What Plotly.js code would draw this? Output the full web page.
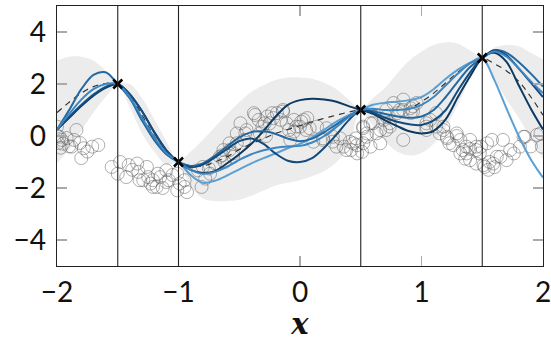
<!DOCTYPE html>
<html>
<head>
<meta charset="utf-8">
<script src="https://cdn.plot.ly/plotly-3.0.1.min.js"></script>
<style>html,body{margin:0;padding:0;background:#fff;}#plot{width:551px;height:341px;}</style>
</head>
<body>
<div id="plot"></div>
<script>
// grid on which the posterior quantities were read
const gridX = [-2.0,-1.9,-1.8,-1.7,-1.6,-1.5,-1.4,-1.3,-1.2,-1.1,-1.0,-0.9,-0.8,-0.7,-0.6,-0.5,-0.4,-0.3,-0.2,-0.1,0.0,0.1,0.2,0.3,0.4,0.5,0.6,0.7,0.8,0.9,1.0,1.1,1.2,1.3,1.4,1.5,1.6,1.7,1.8,1.9,2.0];

const bandUpper = [2.9,3.05,3.05,2.9,2.5,2.05,2.0,1.45,0.65,-0.2,-0.95,-0.6,-0.15,0.35,0.85,1.3,1.7,1.95,2.15,2.25,2.25,2.2,2.05,1.8,1.4,1.05,1.45,1.85,2.4,2.9,3.25,3.5,3.6,3.55,3.3,3.05,3.4,3.5,3.45,3.2,2.95];
const bandLower = [-1.05,-0.5,0.2,0.9,1.5,1.95,1.1,0.1,-0.6,-1.1,-1.05,-1.95,-2.4,-2.5,-2.5,-2.45,-2.3,-2.1,-1.9,-1.8,-1.7,-1.55,-1.35,-1.0,-0.4,0.95,0.4,-0.2,-0.6,-0.75,-0.65,-0.3,0.35,1.2,2.2,2.95,2.2,1.4,0.7,-0.1,-0.9];

const meanY = [0.9,1.3,1.65,1.9,2.02,2.0,1.55,0.8,0.0,-0.65,-1.0,-1.15,-1.15,-1.0,-0.8,-0.52,-0.3,-0.1,0.1,0.25,0.4,0.55,0.68,0.8,0.92,1.0,1.0,1.0,1.0,1.05,1.32,1.65,2.05,2.45,2.8,3.0,2.78,2.5,2.1,1.5,0.8];

const sample1 = [0.25,0.75,1.2,1.6,1.9,2.0,1.45,0.6,-0.15,-0.7,-1.0,-1.5,-1.8,-1.72,-1.52,-1.28,-1.05,-0.85,-0.67,-0.47,-0.3,-0.05,0.25,0.55,0.8,1.0,1.2,1.28,1.32,1.38,1.5,1.8,2.2,2.55,2.82,3.0,2.15,1.05,0.0,-0.9,-1.6];
const sample2 = [0.25,0.7,1.15,1.55,1.85,2.0,1.6,0.95,0.15,-0.55,-1.0,-1.3,-1.42,-1.35,-1.05,-0.7,-0.3,0.2,0.75,1.2,1.38,1.43,1.4,1.32,1.15,1.0,0.85,0.6,0.38,0.18,0.1,0.2,0.65,1.5,2.3,3.0,3.2,2.85,1.95,1.05,0.25];
const sample3 = [0.25,1.0,1.8,2.35,2.45,2.0,1.45,0.6,-0.15,-0.7,-1.0,-1.15,-1.05,-0.75,-0.4,-0.05,0.15,0.18,0.08,-0.1,-0.2,-0.1,0.15,0.45,0.75,1.0,0.95,0.85,0.75,0.7,0.75,1.0,1.5,2.1,2.65,3.0,3.3,3.2,2.85,2.4,1.9];
const sample4 = [0.25,0.72,1.18,1.58,1.88,2.0,1.6,0.95,0.15,-0.55,-1.0,-1.2,-1.1,-0.82,-0.5,-0.2,-0.1,-0.3,-0.68,-0.95,-1.0,-0.85,-0.45,0.05,0.6,1.0,0.9,0.7,0.55,0.45,0.42,0.6,1.0,1.75,2.45,3.0,3.3,3.1,2.6,2.05,1.5];
const sample5 = [0.25,0.85,1.4,1.8,2.0,2.0,1.5,0.7,-0.05,-0.65,-1.0,-1.3,-1.45,-1.38,-1.18,-0.92,-0.7,-0.55,-0.45,-0.4,-0.38,-0.25,0.0,0.35,0.72,1.0,1.05,1.0,1.0,1.05,1.2,1.5,1.95,2.4,2.8,3.0,3.25,3.05,2.6,2.1,1.65];

const sampleColors = ['#5b9fd3','#0c3a62','#2468a0','#154b7c','#3d86c1'];

// observed (noise-free) points
const obsX = [-1.5,-1.0,0.5,1.5];
const obsY = [2.0,-1.0,1.0,3.0];

// noisy data circles
const dataX = [-2.0,-1.84,-1.98,-1.99,-1.96,-1.92,-1.88,-1.81,-1.78,-1.80,-1.71,-1.66,-2.0,-1.95,-1.86,-1.90,-1.75,-1.97,
 -1.55,-1.48,-1.50,-1.41,-1.43,-1.34,-1.33,-1.26,-1.25,-1.23,-1.18,-1.15,-1.10,-1.08,-1.01,-1.21,-1.29,-1.32,-1.21,-0.93,-1.10,-0.99,-1.38,-1.17,-1.05,-1.13,
 -1.01,-0.95,-0.95,-0.81,-0.84,-0.80,-0.74,-0.78,-0.66,-0.63,-0.58,-0.52,-0.55,-0.64,-0.62,-0.75,-0.70,-0.58,-0.55,
 -0.49,-0.52,-0.44,-0.46,-0.38,-0.34,-0.27,-0.25,-0.19,-0.16,-0.11,-0.09,-0.03,0.03,0.05,-0.31,-0.28,-0.14,-0.37,-0.45,-0.23,-0.29,-0.33,-0.22,-0.14,-0.05,0.01,0.06,0.08,-0.05,0.0,0.14,-0.08,
 0.11,0.19,0.27,0.33,0.36,0.41,0.42,0.47,0.52,0.51,0.30,0.46,0.19,0.27,0.38,0.44,0.47,0.52,0.58,0.55,0.52,0.22,
 0.60,0.66,0.69,0.71,0.77,0.80,0.85,0.91,0.93,0.74,0.85,0.82,0.91,0.71,0.58,0.55,0.63,0.71,0.66,0.74,0.96,0.93,0.85,
 1.07,1.12,1.18,1.15,1.04,1.21,1.29,1.23,1.32,1.37,1.40,1.45,1.49,1.32,1.04,1.12,1.18,1.21,1.26,1.34,1.36,1.45,1.48,1.45,1.40,1.37,1.04,1.29,1.40,
 1.52,1.58,1.59,1.65,1.70,1.73,1.81,1.85,1.95,1.99,1.90,1.51,1.56,1.62,1.76,1.54,1.67,1.84,1.98,1.55,1.60];
const dataY = [0.36,0.23,-0.03,-0.27,-0.15,-0.08,-0.41,-0.27,-0.47,-0.85,-0.41,-0.35,0.0,-0.3,-0.15,-0.4,-0.6,-0.45,
 -1.19,-1.0,-1.45,-1.12,-1.58,-1.06,-1.38,-1.19,-1.58,-1.83,-1.96,-1.58,-1.32,-1.7,-2.09,-1.7,-1.7,-1.7,-1.96,-2.16,-1.77,-1.83,-1.3,-1.45,-1.5,-2.0,
 -1.45,-1.96,-1.7,-1.96,-1.32,-1.19,-1.45,-1.64,-0.8,-0.54,-0.28,-0.28,-0.67,-0.74,-1.0,-1.25,-1.05,-0.54,-0.8,
 0.49,0.1,0.23,-0.15,0.88,0.62,0.75,0.49,0.88,0.62,0.49,0.23,0.36,0.62,0.23,0.36,0.0,1.0,0.81,0.1,0.88,0.49,0.1,0.69,0.94,0.17,0.55,0.69,0.3,0.62,0.36,0.36,-0.15,
 -0.22,-0.09,-0.22,-0.09,-0.41,-0.22,-0.54,-0.35,0.3,-0.61,-0.41,-0.09,-0.15,-0.03,-0.54,-0.28,-0.67,0.36,-0.41,-0.03,-0.28,0.3,
 0.49,0.23,0.62,1.0,1.27,0.88,1.0,0.88,1.14,0.36,1.4,1.0,1.07,0.75,0.49,0.1,0.1,0.23,-0.28,0.49,1.27,0.94,-0.15,
 0.62,0.36,0.36,0.1,0.23,-0.03,0.1,-0.28,-0.15,-0.41,-0.15,-0.54,-0.41,-0.67,0.36,0.88,0.23,-0.09,-0.35,-0.54,-0.87,-0.41,-0.67,-1.06,-0.93,-0.67,0.49,0.0,-0.5,
 -1.19,-0.15,-1.06,-0.8,-0.93,-0.54,-0.41,-0.03,0.04,-0.41,-0.4,-1.12,-1.0,-0.8,-0.67,-0.28,-0.15,-0.03,0.1,-1.3,-1.2];

const xTicks = [-2,-1,0,1,2];
const yTicks = [-4,-2,0,2,4];

const traces = [];
traces.push({x: gridX, y: bandUpper, mode: 'lines', line: {width: 0, shape: 'spline', color: 'rgba(0,0,0,0)'}, hoverinfo: 'skip', showlegend: false});
traces.push({x: gridX, y: bandLower, mode: 'lines', line: {width: 0, shape: 'spline', color: 'rgba(0,0,0,0)'}, fill: 'tonexty', fillcolor: '#ececec', hoverinfo: 'skip', showlegend: false});
traces.push({x: dataX, y: dataY, mode: 'markers', marker: {symbol: 'circle-open', size: 13, color: 'rgba(80,80,80,0.45)', line: {width: 1}}, showlegend: false});
traces.push({x: gridX, y: meanY, mode: 'lines', line: {color: '#333', width: 1.2, dash: '6px,5px', shape: 'spline'}, showlegend: false});
const samples = [sample1, sample2, sample3, sample4, sample5];
samples.forEach((s, i) => {
  traces.push({x: gridX, y: s, mode: 'lines', line: {color: sampleColors[i], width: 2, shape: 'spline', smoothing: 0.9}, showlegend: false});
});
traces.push({x: obsX, y: obsY, mode: 'markers', marker: {symbol: 'x-thin', size: 9, line: {width: 2.5, color: '#000'}, color: '#000'}, showlegend: false});

const shapes = obsX.map(v => ({type: 'line', xref: 'x', yref: 'paper', x0: v, x1: v, y0: 0, y1: 1, line: {color: '#222', width: 1.1}, layer: 'above'}));

const layout = {
  width: 551, height: 341,
  margin: {l: 57, r: 8, t: 6, b: 75},
  paper_bgcolor: '#fff', plot_bgcolor: '#fff',
  font: {family: 'Lato, "Open Sans", sans-serif', size: 28, color: '#111'},
  showlegend: false,
  shapes: shapes,
  xaxis: {range: [-2, 2], tickvals: xTicks, ticks: 'inside', ticklen: 10, tickcolor: '#aaa', tickwidth: 1.2,
    showline: true, linecolor: '#222', linewidth: 1.3, mirror: 'ticks', showgrid: false, zeroline: false,
    ticklabelstandoff: 1, ticklabeloverflow: 'allow',
    title: {text: '<b><i>x</i></b>', font: {family: '"DejaVu Serif", serif', size: 29, color: '#111'}, standoff: 13}},
  yaxis: {range: [-5, 5], tickvals: yTicks, ticks: 'inside', ticklen: 10, tickcolor: '#aaa', tickwidth: 1.2,
    showline: true, linecolor: '#222', linewidth: 1.3, mirror: 'ticks', showgrid: false, zeroline: false,
    ticklabelstandoff: 4}
};

Plotly.newPlot('plot', traces, layout, {displayModeBar: false, staticPlot: true});
</script>
</body>
</html>
